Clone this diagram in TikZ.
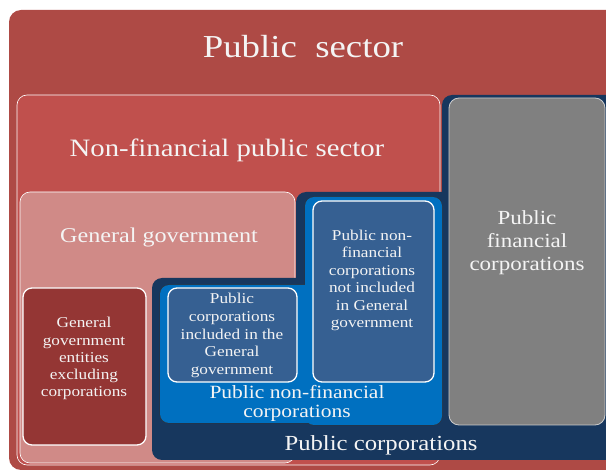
\documentclass[tikz,border=0pt]{standalone}
\usepackage{fontspec}
\setmainfont{Liberation Serif}[FakeStretch=1.15]
\definecolor{pubsec}{HTML}{AE4A45}
\definecolor{nonfin}{HTML}{C0504D}
\definecolor{gengov}{HTML}{D08A87}
\definecolor{entity}{HTML}{943634}
\definecolor{darkblue}{HTML}{17375E}
\definecolor{medblue}{HTML}{0070C0}
\definecolor{boxblue}{HTML}{366092}
\definecolor{grayfin}{HTML}{808080}
\definecolor{txtw}{HTML}{F4F4F4}
\begin{document}
\begin{tikzpicture}[x=1pt,y=-1pt,
  lbl/.style={text=txtw, inner sep=0pt, align=center},
  bigbox/.style={rounded corners=10pt, draw=white, line width=0.6pt},
  smallbox/.style={rounded corners=9pt, draw=white, line width=1.3pt}]
\useasboundingbox (0,0) rectangle (606,473);
\clip (0,0) rectangle (606,473);
% Public sector
\fill[pubsec, rounded corners=12pt] (9,10) rectangle (640,470);
\node[lbl, font=\fontsize{32}{36}\selectfont, anchor=base] (ps) at (303,58) {Public\ \ sector};
% Non-financial public sector
\path[bigbox, fill=nonfin] (17,95) rectangle (440,465);
\node[lbl, font=\fontsize{25}{28}\selectfont, anchor=base] (nfps) at (227,157) {Non-financial public sector};
% General government
\path[bigbox, fill=gengov] (20,192) rectangle (295,463);
\node[lbl, font=\fontsize{21}{24}\selectfont, anchor=base] (gg) at (159,243) {General government};
% Public corporations (dark blue L-shape)
\fill[darkblue, rounded corners=10pt] (442,95) rectangle (640,460);
\fill[darkblue, rounded corners=10pt] (296,192) rectangle (640,460);
\fill[darkblue, rounded corners=10pt] (152,278) rectangle (640,460);
\node[lbl, font=\fontsize{21.5}{24}\selectfont, anchor=base] (pc) at (381,450) {Public corporations};
% Public non-financial corporations (medium blue)
\draw[black!80, line width=1pt, rounded corners=9pt] (160,285) rectangle (400,423);
\draw[black!80, line width=1pt, rounded corners=9pt] (305,197) rectangle (442,425);
\fill[medblue, rounded corners=9pt] (160,285) rectangle (400,423);
\fill[medblue, rounded corners=9pt] (305,197) rectangle (442,425);
\node[lbl, font=\fontsize{18.7}{20}\selectfont, anchor=base] (pnfc) at (297,418) {Public non-financial\\corporations};
% Public financial corporations
\path[rounded corners=10pt, fill=grayfin, draw=gray!40, line width=0.8pt] (449,98) rectangle (605,425);
\node[lbl, font=\fontsize{20}{23}\selectfont, anchor=base] (pfc) at (527,271) {Public\\financial\\corporations};
% General government entities
\path[smallbox, fill=entity] (23,288) rectangle (146,445);
\node[lbl, font=\fontsize{15}{17.3}\selectfont, anchor=base] (gge) at (84,397) {General\\government\\entities\\excluding\\corporations};
% Public corporations included in GG
\path[smallbox, fill=boxblue] (168,288) rectangle (297,382);
\node[lbl, font=\fontsize{15}{18}\selectfont, anchor=base] (pcig) at (232,375) {Public\\corporations\\included in the\\General\\government};
% Public non-financial corporations not included
\path[smallbox, fill=boxblue] (313,201) rectangle (434,382);
\node[lbl, font=\fontsize{15}{17.6}\selectfont, anchor=base] (pnfni) at (372,328) {Public non-\\financial\\corporations\\not included\\in General\\government};
\end{tikzpicture}
\end{document}
